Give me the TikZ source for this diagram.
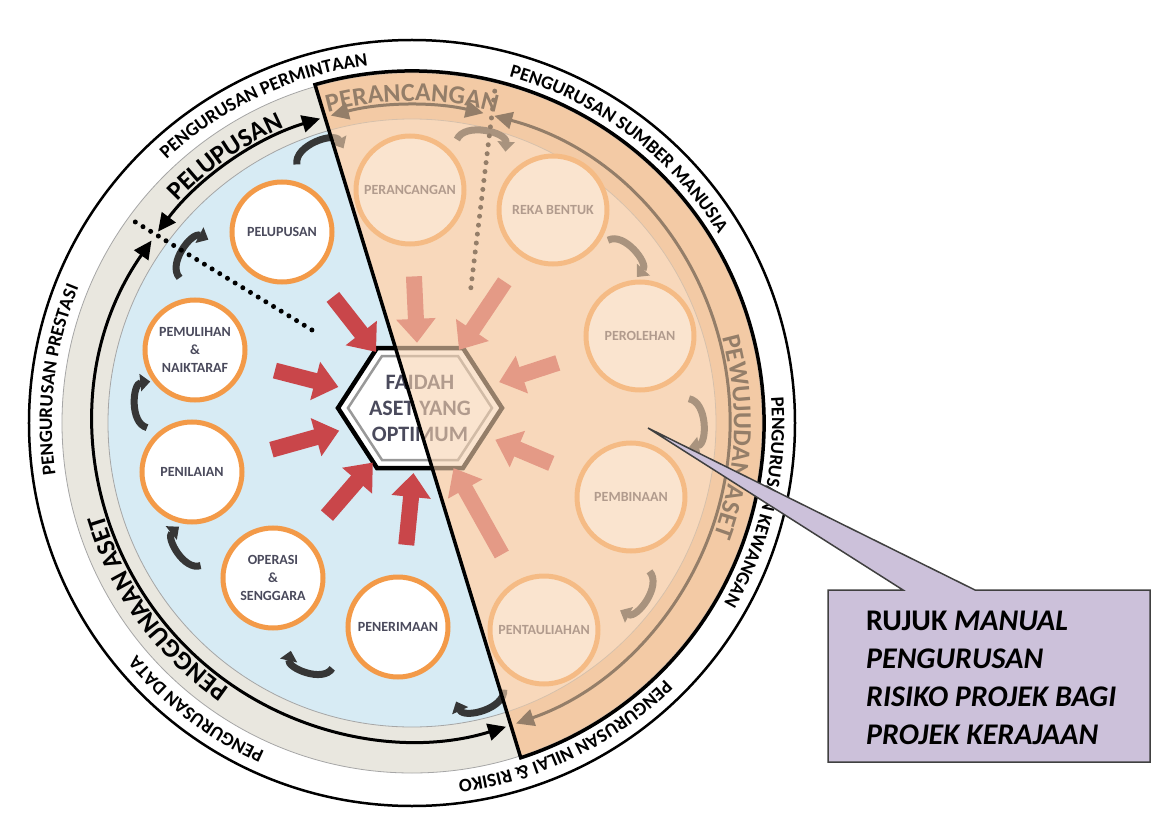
\documentclass[tikz,border=0pt]{standalone}
\usepackage{fontspec}
\setmainfont{Carlito}
\usetikzlibrary{arrows.meta,decorations.text,shapes.geometric,calc}

\definecolor{bandgray}{HTML}{E9E7DF}
\definecolor{discblue}{HTML}{D7EBF4}
\definecolor{ringorange}{HTML}{F39A48}
\definecolor{labelgray}{HTML}{4A4A5C}
\definecolor{arrowred}{HTML}{C9464A}
\definecolor{curvegray}{HTML}{363636}
\definecolor{peachband}{HTML}{EFC096}
\definecolor{peachdisc}{HTML}{FAE3CE}
\definecolor{peachtint}{HTML}{F7D2AF}
\definecolor{notefill}{HTML}{CCC1DA}
\definecolor{noteline}{HTML}{404040}

\newcommand{\ringfont}{\fontsize{19}{19}\selectfont\bfseries}
\newcommand{\bandfont}{\fontsize{26}{26}\selectfont\bfseries}

\begin{document}
\begin{tikzpicture}[x=1pt, y=1pt,
    phase/.style={circle, draw=ringorange, line width=5pt, fill=white, minimum size=100pt, inner sep=0pt, align=center, text=labelgray, font=\fontsize{14}{18}\selectfont\bfseries},
    bigphase/.style={phase, minimum size=108pt},
    hub/.style={ellipse, minimum width=170pt, minimum height=128pt, inner sep=0pt, align=center, text=labelgray, font=\fontsize{22}{26}\selectfont\bfseries},
    redarrow/.style={line width=16pt, draw=arrowred, -{Triangle[length=24pt, width=38pt]}, shorten <=30pt, shorten >=1pt},
    turn/.style={line width=7pt, draw=curvegray, -{Triangle[length=10pt, width=17pt]}},
    phasearc/.style={line width=3pt, {Triangle[length=18pt, width=17pt]}-{Triangle[length=18pt, width=17pt]}},
    sepdots/.style={line width=5pt, line cap=round, dash pattern=on 0pt off 9pt},
    ringtext/.style={decorate, decoration={text along path, text align=center, text={|\ringfont|#1}}},
    bandtext/.style={decorate, decoration={text along path, text align=center, text={|\bandfont|#1}}},
    notebox/.style={fill=notefill, draw=noteline, line width=1.5pt, line join=miter},
    notetext/.style={align=left, inner sep=0pt, font=\fontsize{30}{38}\selectfont\bfseries}
]
\useasboundingbox (-412,-391) rectangle (747,423);

% Rings
\draw[line width=2.5pt, fill=white] (0,0) circle[radius=383];
\fill[bandgray] (0,0) circle[radius=350];
\fill[discblue] (0,0) circle[radius=304];
\begin{scope}
    \clip (106:352) -- (-72:352) arc[start angle=-72, end angle=106, radius=352] -- cycle;
    \fill[peachband] (0,0) circle[radius=352];
    \fill[peachdisc] (0,0) circle[radius=304];
\end{scope}
\draw[gray!70, line width=0.8pt] (0,0) circle[radius=350];
\draw[gray!70, line width=0.8pt] (0,0) circle[radius=304];

% Hub
\begin{scope}[shift={(8,15)}]
    \draw[line width=4.5pt, fill=white] (-82,0) -- (-43,60) -- (43,60) -- (82,0) -- (43,-60) -- (-43,-60) -- cycle;
    \draw[line width=2.5pt, gray!80] (-72,0) -- (-38,52) -- (38,52) -- (72,0) -- (38,-52) -- (-38,-52) -- cycle;
\end{scope}
\node[hub] (faidah) at (8,15) {FAIDAH\\ASET YANG\\OPTIMUM};

% Nodes
\node[phase] (pelupusan) at (-130,191) {PELUPUSAN};
\node[phase] (pemulihan) at (-217,73) {PEMULIHAN\\\&\\NAIKTARAF};
\node[phase] (penilaian) at (-220,-49) {PENILAIAN};
\node[phase] (operasi) at (-139,-155) {OPERASI\\\&\\SENGGARA};
\node[phase] (penerimaan) at (-14,-204) {PENERIMAAN};
\node[bigphase] (perancangan) at (-2,233) {PERANCANGAN};
\node[bigphase] (rekabentuk) at (141,213) {REKA BENTUK};
\node[bigphase] (perolehan) at (228,87) {PEROLEHAN};
\node[bigphase] (pembinaan) at (219,-74) {PEMBINAAN};
\node[bigphase] (pentauliahan) at (132,-207) {PENTAULIAHAN};

% Edges
\foreach \p in {pelupusan, pemulihan, penilaian, operasi, penerimaan, perancangan, rekabentuk, perolehan, pembinaan, pentauliahan}
    \draw[redarrow] (\p) -- (faidah);

\foreach \a/\r in {109/283, 76/287, 38/268, 0/278, -37/280, -76/282, -113/258, -151/255, -184/265, -217/274}
    \draw[turn] ({\a+5}:\r) to[bend left=80] ({\a-5}:\r);

% Phases
\coordinate (sepleft) at (144:342);
\coordinate (sepleftend) at (-100,93);
\coordinate (sepright) at (76:342);
\coordinate (seprightend) at (58,128);
\draw[sepdots] (sepleft) -- (sepleftend);
\draw[sepdots] (sepright) -- (seprightend);

\draw[phasearc] (106.8:318) arc[start angle=106.8, end angle=143, radius=318];
\draw[phasearc] (145:318) arc[start angle=145, end angle=287.2, radius=318];
\draw[phasearc] (104.8:318) arc[start angle=104.8, end angle=77, radius=318];
\draw[phasearc] (75:318) arc[start angle=75, end angle=-70.9, radius=318];

\path[bandtext=PELUPUSAN] (165:322) arc[start angle=165, end angle=85, radius=322];
\path[bandtext=PENGGUNAAN ASET] (256:322) arc[start angle=256, end angle=176, radius=322];
\path[bandtext=PERANCANGAN] (130:322) arc[start angle=130, end angle=50, radius=322];
\path[bandtext=PEWUJUDAN ASET] (37.5:322) arc[start angle=37.5, end angle=-42.5, radius=322];

% Overlay
\fill[peachtint, fill opacity=0.6] (106:352) -- (-72:352) arc[start angle=-72, end angle=106, radius=352] -- cycle;
\draw[line width=3.5pt] (106:352) -- (-72:352) arc[start angle=-72, end angle=106, radius=352] -- cycle;

% Outer ring
\path[ringtext=PENGURUSAN PERMINTAAN] (165:360) arc[start angle=165, end angle=65, radius=360];
\path[ringtext=PENGURUSAN SUMBER MANUSIA] (103:360) arc[start angle=103, end angle=3, radius=360];
\path[ringtext=PENGURUSAN KEWANGAN] (37:360) arc[start angle=37, end angle=-63, radius=360];
\path[ringtext={PENGURUSAN NILAI {\&} RISIKO}] (-14:360) arc[start angle=-14, end angle=-114, radius=360];
\path[ringtext=PENGURUSAN DATA] (-77:360) arc[start angle=-77, end angle=-177, radius=360];
\path[ringtext=PENGURUSAN PRESTASI] (223:360) arc[start angle=223, end angle=123, radius=360];

% Note
\coordinate (notetip) at (236,-5);
\draw[notebox] (416,-167) -- (491,-167) -- (notetip) -- (563,-167) -- (738,-167) -- (738,-339) -- (416,-339) -- cycle;
\node[notetext, anchor=north west] (note) at (454,-188) {RUJUK \textit{MANUAL}\\\textit{PENGURUSAN}\\\textit{RISIKO PROJEK BAGI}\\\textit{PROJEK KERAJAAN}};

\end{tikzpicture}
\end{document}
